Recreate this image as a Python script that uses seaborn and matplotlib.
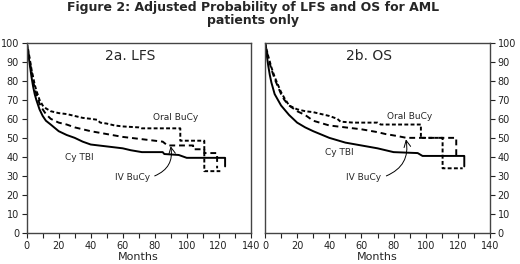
import pandas as pd
import seaborn as sns
import matplotlib.pyplot as plt
from matplotlib.ticker import MultipleLocator

# ==========================================
# DATA
# ==========================================
GROUPS = ["Cy TBI", "IV BuCy", "Oral BuCy"]

# 2a. LFS
lfs_cy_x = [0, 1, 2, 3, 4, 5, 6, 8, 10, 12, 15, 20, 25, 30, 35, 40, 50, 60, 65, 72, 85, 86, 95, 100, 124, 124]
lfs_cy_y = [100, 94, 88, 82, 77, 73, 70, 65, 61.5, 59, 57, 53.5, 51.5, 50, 48, 46.5, 45.5, 44.5, 43.5, 42.5, 42.5, 41.5, 41, 39.5, 39.5, 35]
lfs_iv_x = [0, 1, 2, 3, 4, 5, 6, 8, 10, 12, 15, 20, 25, 30, 40, 50, 60, 70, 80, 85, 88, 104, 104, 111, 111, 119, 119]
lfs_iv_y = [100, 95, 90, 85, 80, 76, 73, 68, 65, 62.5, 60, 58, 57, 55.5, 53.5, 52, 50.5, 49.5, 48.5, 48, 46, 46, 44, 44, 42, 42, 34]
lfs_oral_x = [0, 1, 2, 3, 4, 5, 6, 8, 10, 12, 15, 20, 25, 30, 35, 40, 44, 46, 50, 55, 60, 70, 72, 96, 96, 111, 111, 121]
lfs_oral_y = [100, 96, 91, 86, 82, 78, 75, 70, 67, 65.5, 64, 63, 62.5, 61.5, 60.5, 60, 59.5, 58, 57.5, 56.5, 56, 55.5, 55, 55, 48.5, 48.5, 32.5, 32.5]

# 2b. OS
os_cy_x = [0, 1, 2, 3, 4, 5, 6, 8, 10, 12, 15, 20, 25, 30, 40, 50, 60, 70, 80, 95, 98, 124, 124]
os_cy_y = [100, 94, 88, 83, 79, 76, 73, 70, 67, 65, 62, 58, 55.5, 53.5, 50, 47.5, 46, 44.5, 42.5, 42, 40.5, 40.5, 35]
os_iv_x = [0, 2, 4, 6, 8, 10, 12, 15, 20, 25, 30, 40, 50, 60, 70, 75, 82, 88, 119, 119]
os_iv_y = [100, 92, 86, 81, 77, 73, 70, 67, 64, 62, 59, 56.5, 55.5, 54.5, 53, 52, 51, 50, 50, 40.5]
os_oral_x = [0, 2, 4, 6, 8, 10, 12, 15, 20, 25, 30, 35, 40, 45, 47, 55, 70, 72, 97, 97, 110.5, 110.5, 123]
os_oral_y = [100, 93, 87, 82, 78, 74, 71, 67, 65, 64, 63.5, 62.5, 61.5, 60, 58.5, 58, 58, 57, 57, 50, 50, 34, 34]


def build_frame(curves):
    rows = []
    for group, (xs, ys) in zip(GROUPS, curves):
        for x, y in zip(xs, ys):
            rows.append({"months": x, "prob": y, "group": group})
    return pd.DataFrame(rows)


lfs_df = build_frame([(lfs_cy_x, lfs_cy_y), (lfs_iv_x, lfs_iv_y), (lfs_oral_x, lfs_oral_y)])
os_df = build_frame([(os_cy_x, os_cy_y), (os_iv_x, os_iv_y), (os_oral_x, os_oral_y)])

sns.set_theme(style="white")
plt.rcParams["font.family"] = ["DejaVu Sans"]

fig = plt.figure(figsize=(5.2, 2.64), dpi=100)
ax_l = fig.add_axes([26.7 / 520, 1 - 233 / 264, 224 / 520, 190.3 / 264])
ax_r = fig.add_axes([265 / 520, 1 - 233 / 264, 225 / 520, 190.3 / 264])

dashes = {"Cy TBI": "", "IV BuCy": (3, 2), "Oral BuCy": (2, 1.2)}
palette = {g: "black" for g in GROUPS}

panels = [
    (ax_l, lfs_df, "2a. LFS", {"Oral BuCy": (93, 60.8), "Cy TBI": (33, 39.8), "IV BuCy": (66, 29.3)},
     ((80, 30), (90, 45.6))),
    (ax_r, os_df, "2b. OS", {"Oral BuCy": (90, 61.1), "Cy TBI": (46, 42.2), "IV BuCy": (61.6, 29.3)},
     ((75.5, 30), (87.7, 49.2))),
]

for ax, df, title, labels, (a_start, a_end) in panels:
    sns.lineplot(data=df, x="months", y="prob", hue="group", style="group",
                 palette=palette, dashes=dashes, estimator=None, sort=False,
                 linewidth=1.4, legend=False, ax=ax)
    ax.set_xlim(0, 140)
    ax.set_ylim(0, 100)
    ax.xaxis.set_major_locator(MultipleLocator(20))
    ax.xaxis.set_minor_locator(MultipleLocator(10))
    ax.yaxis.set_major_locator(MultipleLocator(10))
    ax.tick_params(axis="both", which="both", direction="out", length=3.5, width=0.8,
                   labelsize=7, colors="#222222", pad=2)
    ax.tick_params(axis="x", which="both", bottom=True)
    for s in ax.spines.values():
        s.set_color("#444444")
        s.set_linewidth(1.0)
    ax.set_xlabel("Months", fontsize=8, labelpad=1)
    ax.set_ylabel("")
    ax.text(0.46, 0.93, title, transform=ax.transAxes, ha="center", va="center", fontsize=10)
    for name, (tx, ty) in labels.items():
        ax.text(tx, ty, name, ha="center", va="center", fontsize=6.5)
    ax.annotate("", xy=a_end, xytext=a_start,
                arrowprops=dict(arrowstyle="->", color="black", lw=0.7,
                                connectionstyle="arc3,rad=0.4", shrinkA=0, shrinkB=0))

ax_l.tick_params(axis="y", left=True, right=False)
ax_r.yaxis.tick_right()
ax_r.tick_params(axis="y", which="both", left=False, right=True, labelleft=False, labelright=True)

fig.text(0.487, 0.995, "Figure 2: Adjusted Probability of LFS and OS for AML\npatients only",
         ha="center", va="top", fontsize=9, fontweight="bold", linespacing=1.0)

fig.savefig("out.png", dpi=100)
